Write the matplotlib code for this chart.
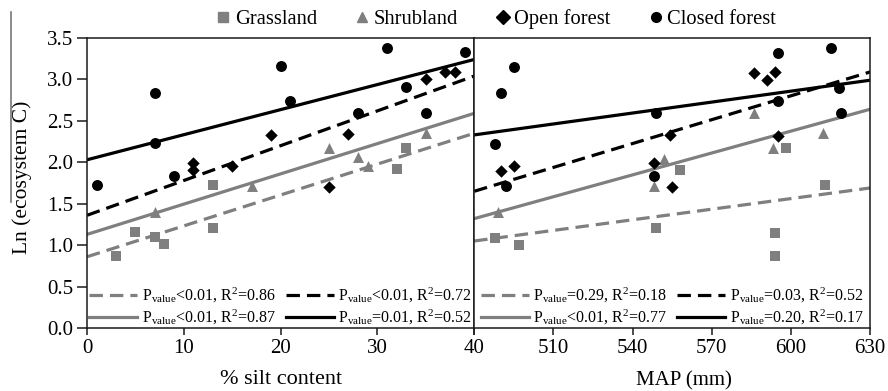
import numpy as np
import matplotlib
matplotlib.use("Agg")
import matplotlib.pyplot as plt
from matplotlib.lines import Line2D

plt.rcParams['font.family'] = ['Liberation Serif', 'DejaVu Serif']
plt.rcParams['mathtext.fontset'] = 'custom'
plt.rcParams['mathtext.rm'] = 'Liberation Serif'
plt.rcParams['mathtext.it'] = 'Liberation Serif:italic'

GRAY = '#7f7f7f'

# silt content panel
silt_grass = [3, 5, 7, 8, 13, 13, 32, 33]
lnc_grass_silt = [0.87, 1.16, 1.10, 1.01, 1.21, 1.72, 1.92, 2.17]
silt_shrub = [7, 17, 25, 28, 29, 35]
lnc_shrub_silt = [1.40, 1.71, 2.17, 2.06, 1.96, 2.35]
silt_open = [11, 11, 15, 19, 25, 27, 35, 37, 38]
lnc_open_silt = [1.99, 1.91, 1.96, 2.33, 1.70, 2.34, 3.00, 3.09, 3.09]
silt_closed = [1, 7, 7, 9, 20, 21, 28, 31, 33, 35, 39]
lnc_closed_silt = [1.72, 2.83, 2.23, 1.83, 3.16, 2.74, 2.60, 3.38, 2.91, 2.60, 3.33]
# fitted lines (value at x=0 and x=40): grass, shrub, open, closed
fit_silt_start = [0.86, 1.13, 1.36, 2.03]
fit_silt_end = [2.35, 2.59, 3.04, 3.24]

# MAP panel
map_grass = [488, 497, 549, 558, 594, 594, 598, 613]
lnc_grass_map = [1.09, 1.00, 1.21, 1.91, 1.15, 0.87, 2.17, 1.72]
map_shrub = [489, 548, 552, 586, 593, 612]
lnc_shrub_map = [1.40, 1.71, 2.04, 2.60, 2.17, 2.35]
map_open = [490, 495, 548, 554, 555, 586, 591, 594, 595]
lnc_open_map = [1.90, 1.96, 1.99, 2.33, 1.70, 3.08, 2.99, 3.09, 2.32]
map_closed = [488, 490, 492, 495, 548, 549, 595, 595, 615, 618, 619]
lnc_closed_map = [2.22, 2.83, 1.71, 3.15, 1.83, 2.60, 3.32, 2.74, 3.38, 2.90, 2.59]
# fitted lines (value at x=480 and x=630)
fit_map_start = [1.05, 1.32, 1.65, 2.33]
fit_map_end = [1.69, 2.64, 3.09, 2.99]

stats_silt = ['<0.01, R$^{2}$=0.86', '<0.01, R$^{2}$=0.87',
              '<0.01, R$^{2}$=0.72', '=0.01, R$^{2}$=0.52']
stats_map = ['=0.29, R$^{2}$=0.18', '<0.01, R$^{2}$=0.77',
             '=0.03, R$^{2}$=0.52', '=0.20, R$^{2}$=0.17']

groups = ['Grassland', 'Shrubland', 'Open forest', 'Closed forest']
colors = [GRAY, GRAY, 'black', 'black']
markers = ['s', '^', 'D', 'o']
msizes = [50, 62, 40, 62]
dashed = (0, (4.2, 2.2))
styles = [dashed, '-', dashed, '-']

fig = plt.figure(figsize=(8.88, 3.91), dpi=100)
ax1 = fig.add_axes([0.098, 0.161, 0.436, 0.742])
ax2 = fig.add_axes([0.534, 0.161, 0.446, 0.742], sharey=ax1)

panels = [
    (ax1, [silt_grass, silt_shrub, silt_open, silt_closed],
     [lnc_grass_silt, lnc_shrub_silt, lnc_open_silt, lnc_closed_silt],
     (0, 40), fit_silt_start, fit_silt_end, stats_silt),
    (ax2, [map_grass, map_shrub, map_open, map_closed],
     [lnc_grass_map, lnc_shrub_map, lnc_open_map, lnc_closed_map],
     (480, 630), fit_map_start, fit_map_end, stats_map),
]

for ax, xs, ys, xlim, f0, f1, stats in panels:
    fit_handles = []
    for i in range(4):
        ax.scatter(xs[i], ys[i], c=colors[i], marker=markers[i], s=msizes[i],
                   linewidths=0, zorder=3)
        h, = ax.plot(xlim, [f0[i], f1[i]], color=colors[i], lw=2.3,
                     linestyle=styles[i], zorder=2)
        fit_handles.append(h)
    labels = ['P$_{\\mathrm{value}}$' + t for t in stats]
    ax.legend(fit_handles, labels, ncol=2, loc='lower center',
              bbox_to_anchor=(0.5, -0.03), frameon=False, fontsize=11.5,
              handlelength=3.0, handletextpad=0.3, columnspacing=0.6,
              labelspacing=0.2, borderaxespad=0.2)
    ax.set_xlim(xlim)
    for sp in ax.spines.values():
        sp.set_linewidth(1.1)
        sp.set_color('#1a1a1a')
    ax.tick_params(axis='x', direction='out', length=5, width=1.1,
                   labelsize=15, color='#1a1a1a', pad=3)
    ax.tick_params(axis='y', direction='out', length=7, width=1.1,
                   labelsize=15, color='#1a1a1a', pad=3)

ax1.set_ylim(0, 3.5)
ax1.set_yticks(np.arange(0, 3.51, 0.5))
ax1.yaxis.set_major_formatter(matplotlib.ticker.FormatStrFormatter('%.1f'))
ax1.set_xticks([0, 10, 20, 30, 40])
ax2.set_xticks([480, 510, 540, 570, 600, 630])
ax2.set_xticklabels(['', '510', '540', '570', '600', '630'])
ax2.tick_params(axis='y', left=False, labelleft=False)

ax1.set_xlabel('% silt content', fontsize=16)
ax1.xaxis.set_label_coords(0.5, -0.145)
ax2.set_xlabel('MAP (mm)', fontsize=15)
ax2.xaxis.set_label_coords(0.53, -0.15)
ax1.set_ylabel('Ln (ecosystem C)', fontsize=15.5)
ax1.yaxis.set_label_coords(-0.142, 0.52)
# bar drawn over "ecosystem C" in the original figure
fig.add_artist(Line2D([0.0124, 0.0124], [0.969, 0.483], color='#777777',
                      lw=1.2, transform=fig.transFigure))

top_handles = [Line2D([], [], color=c, marker=m, linestyle='none', markersize=7)
               for c, m in zip(colors, markers)]
fig.legend(top_handles, groups, ncol=4, loc='center',
           bbox_to_anchor=(0.557, 0.952), frameon=False, fontsize=14.8,
           handletextpad=0.05, columnspacing=1.7, handlelength=1.0)

fig.savefig('out.png', dpi=100)
